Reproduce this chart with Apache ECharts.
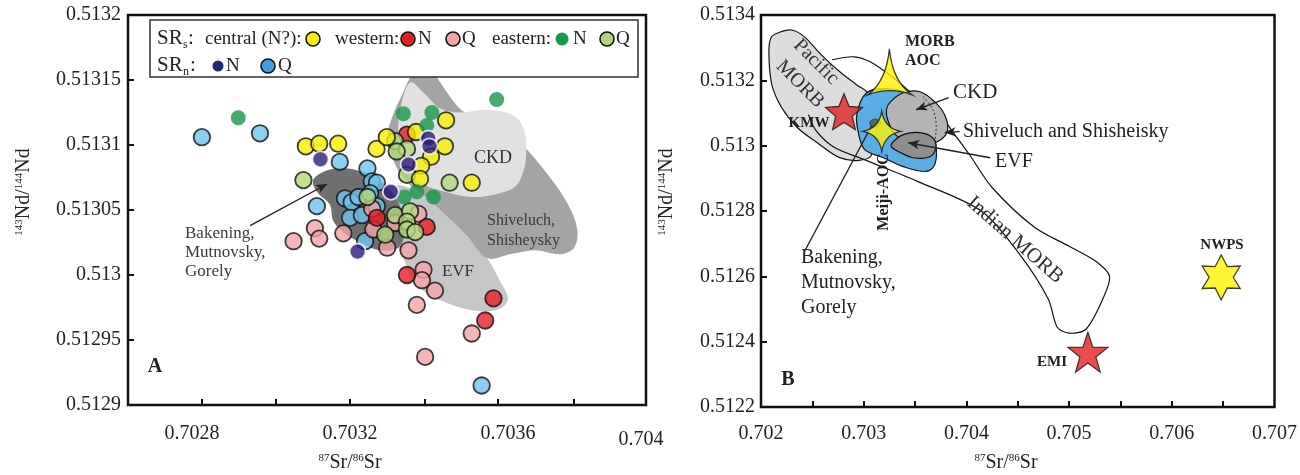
<!DOCTYPE html>
<html><head><meta charset="utf-8">
<script src="https://cdn.jsdelivr.net/npm/echarts@6/dist/echarts.min.js"></script>
<style>html,body{margin:0;padding:0;background:#fff}#c{width:1300px;height:475px}</style>
</head><body><div id="c"></div>
<script>
// ================= Panel A (87Sr/86Sr vs 143Nd/144Nd) =================
const xLabelsA = [0.7028, 0.7032, 0.7036];
const xTicksA = [0.702825, 0.703013, 0.7032, 0.70339, 0.703575, 0.703765];
const yLabelsA = [0.5129, 0.51295, 0.513, 0.51305, 0.5131, 0.51315, 0.5132];
const yTicksA = [0.51295, 0.513, 0.51305, 0.5131, 0.51315];

const centralN = [[0.703088,0.513099],[0.703122,0.513101],[0.703170,0.513101],[0.703267,0.513097],[0.703293,0.513106],[0.703367,0.513110],[0.703443,0.513119],[0.703440,0.513099],[0.703405,0.513091],[0.703380,0.513084],[0.703377,0.513074],[0.703508,0.513071]];
const westernN = [[0.703344,0.513108],[0.703268,0.513044],[0.703394,0.513037],[0.703344,0.513000],[0.703563,0.512982],[0.703542,0.512965]];
const westernQ = [[0.703057,0.513026],[0.703111,0.513036],[0.703122,0.513028],[0.703183,0.513032],[0.703256,0.513051],[0.703259,0.513035],[0.703294,0.513021],[0.703348,0.513019],[0.703314,0.513040],[0.703373,0.513047],[0.703386,0.513004],[0.703382,0.512996],[0.703415,0.512988],[0.703369,0.512977],[0.703508,0.512955],[0.703390,0.512937]];
const easternN = [[0.702917,0.513121],[0.703335,0.513124],[0.703407,0.513125],[0.703394,0.513115],[0.703571,0.513135],[0.703337,0.513060],[0.703369,0.513064],[0.703411,0.513060]];
const easternQ = [[0.703082,0.513073],[0.703314,0.513103],[0.703344,0.513097],[0.703318,0.513095],[0.703344,0.513077],[0.703452,0.513071],[0.703244,0.513060],[0.703314,0.513046],[0.703352,0.513049],[0.703344,0.513041],[0.703289,0.513031],[0.703344,0.513035],[0.703365,0.513033]];
const srnN = [[0.703125,0.513089],[0.703398,0.513105],[0.703401,0.513099],[0.703348,0.513085],[0.703303,0.513064],[0.703219,0.513018]];
const srnQ = [[0.702825,0.513106],[0.702972,0.513109],[0.703174,0.513087],[0.703244,0.513082],[0.703116,0.513053],[0.703187,0.513059],[0.703204,0.513056],[0.703221,0.513060],[0.703255,0.513072],[0.703268,0.513071],[0.703251,0.513063],[0.703268,0.513053],[0.703200,0.513044],[0.703230,0.513046],[0.703238,0.513026],[0.703533,0.512915]];

const evfA = [[0.703276,0.513065],[0.703327,0.513069],[0.703395,0.513059],[0.703435,0.513048],[0.703496,0.513030],[0.703547,0.513013],[0.703580,0.512995],[0.703600,0.512982],[0.703585,0.512975],[0.703547,0.512972],[0.703491,0.512974],[0.703441,0.512979],[0.703390,0.512987],[0.703357,0.512996],[0.703339,0.513010],[0.703314,0.513027],[0.703284,0.513046]];
const shiveluchA = [[0.703380,0.513165],[0.703403,0.513159],[0.703433,0.513146],[0.703466,0.513132],[0.703491,0.513125],[0.703592,0.513112],[0.703643,0.513098],[0.703711,0.513073],[0.703752,0.513054],[0.703775,0.513035],[0.703767,0.513021],[0.703732,0.513016],[0.703668,0.513019],[0.703605,0.513016],[0.703547,0.513013],[0.703496,0.513030],[0.703435,0.513048],[0.703395,0.513059],[0.703352,0.513069],[0.703314,0.513085],[0.703296,0.513108],[0.703306,0.513121],[0.703332,0.513139],[0.703357,0.513155]];
const ckdA = [[0.703352,0.513148],[0.703390,0.513139],[0.703428,0.513128],[0.703478,0.513125],[0.703529,0.513127],[0.703580,0.513126],[0.703618,0.513122],[0.703640,0.513112],[0.703646,0.513096],[0.703640,0.513081],[0.703618,0.513068],[0.703567,0.513062],[0.703504,0.513060],[0.703441,0.513064],[0.703390,0.513069],[0.703339,0.513081],[0.703322,0.513104],[0.703327,0.513127]];
const bakeningA = [[0.703106,0.513072],[0.703124,0.513078],[0.703162,0.513082],[0.703213,0.513081],[0.703263,0.513075],[0.703306,0.513064],[0.703332,0.513048],[0.703339,0.513033],[0.703322,0.513021],[0.703276,0.513019],[0.703225,0.513025],[0.703182,0.513033],[0.703157,0.513042],[0.703149,0.513054],[0.703119,0.513063]];
const arrowA = [[0.702947,0.513038],[0.703142,0.513070]];

// ================= Panel B =================
const xLabelsB = [0.702, 0.703, 0.704, 0.705, 0.706, 0.707];
const xTicksB = [0.7025, 0.703, 0.7035, 0.704, 0.7045, 0.705, 0.7055, 0.706, 0.7065];
const yLabelsB = [0.5122, 0.5124, 0.5126, 0.5128, 0.513, 0.5132, 0.5134];
const yTicksB = [0.5124, 0.5126, 0.5128, 0.513, 0.5132];

const pacificMORB = [[0.702163,0.513345],[0.702298,0.513354],[0.702423,0.513333],[0.702587,0.513278],[0.702779,0.513223],[0.702933,0.513186],[0.703048,0.513156],[0.703010,0.513079],[0.703077,0.512973],[0.702952,0.512955],[0.702760,0.512964],[0.702548,0.513009],[0.702356,0.513055],[0.702202,0.513116],[0.702106,0.513186],[0.702077,0.513280],[0.702096,0.513330]];
const indianMORB = [[0.702692,0.513263],[0.702904,0.513272],[0.703067,0.513256],[0.703288,0.513208],[0.703452,0.513165],[0.703740,0.513095],[0.703865,0.513043],[0.704029,0.512973],[0.704250,0.512872],[0.704663,0.512750],[0.705000,0.512692],[0.705260,0.512646],[0.705394,0.512600],[0.705327,0.512530],[0.705163,0.512438],[0.705000,0.512426],[0.704885,0.512444],[0.704798,0.512530],[0.704519,0.512667],[0.704154,0.512798],[0.703529,0.512890],[0.703000,0.512958],[0.702712,0.512995],[0.702538,0.513045],[0.702462,0.513095]];
const meijiField = [[0.703029,0.513162],[0.703240,0.513174],[0.703433,0.513156],[0.703625,0.513079],[0.703702,0.513003],[0.703692,0.512942],[0.703606,0.512921],[0.703385,0.512936],[0.703192,0.512963],[0.703010,0.512988],[0.702952,0.513034],[0.702933,0.513095]];
const ckdB = [[0.703260,0.513134],[0.703385,0.513162],[0.703548,0.513165],[0.703692,0.513134],[0.703788,0.513095],[0.703817,0.513049],[0.703750,0.513018],[0.703606,0.513003],[0.703452,0.513009],[0.703308,0.513034],[0.703240,0.513073],[0.703221,0.513110]];
const evfB = [[0.703288,0.513012],[0.703385,0.513034],[0.703548,0.513040],[0.703673,0.513024],[0.703702,0.512994],[0.703644,0.512966],[0.703481,0.512963],[0.703356,0.512979],[0.703269,0.512997]];
const shiveluchB = [[0.703577,0.513150],[0.703692,0.513095],[0.703692,0.513015]];
const bakeningB = [0.703112, 0.513069];
const morbAOC = [0.703255, 0.513226];
const meijiAOC = [0.703176, 0.513044];
const kmw = [0.702808, 0.513104];
const emi = [0.705183, 0.512368];
const nwps = [0.706481, 0.512597];
const arrowsB = [
  [[0.703827,0.513147],[0.703510,0.513110]],
  [[0.703933,0.513043],[0.703788,0.513040]],
  [[0.704231,0.512963],[0.703433,0.513009]]
];
const lineB = [[0.702423,0.512676],[0.703077,0.513061]];

// ================= styling / helpers =================
const FF = '"Liberation Serif","Times New Roman",serif';
const fmt = v => String(parseFloat((+v).toFixed(6)));

function starPath(n, inner) {
  let d = '';
  for (let i = 0; i < 2 * n; i++) {
    const r = i % 2 ? 50 * inner : 50;
    const a = -Math.PI / 2 + i * Math.PI / n;
    d += (i ? 'L' : 'M') + (50 + r * Math.cos(a)).toFixed(2) + ' ' + (50 + r * Math.sin(a)).toFixed(2) + ' ';
  }
  return 'path://' + d + 'Z';
}
const star4 = 'path://M20 0 Q23 17 40 20 Q23 23 20 40 Q17 23 0 20 Q17 17 20 0 Z';
const star3 = 'path://M21 0 Q24 31 43 44 Q21 36 0 44 Q18 31 21 0 Z';

function poly(ai, pts, style, opts) {
  opts = opts || {};
  return {
    type: 'custom', xAxisIndex: ai, yAxisIndex: ai, data: [pts[0]], silent: true,
    animation: false, clip: true, z: opts.z || 2,
    renderItem: (p, api) => ({
      type: opts.line ? 'polyline' : 'polygon',
      shape: { points: pts.map(q => api.coord(q)), smooth: opts.smooth == null ? 0.35 : opts.smooth },
      style: style
    }),
    markLine: opts.markLine
  };
}
function scat(ai, data, size, itemStyle, symbol, z) {
  return { type: 'scatter', xAxisIndex: ai, yAxisIndex: ai, data: data, symbol: symbol || 'circle',
    symbolSize: size, itemStyle: itemStyle, silent: true, animation: false, z: z || 3 };
}
function mLine(pairs, symbols) {
  return { silent: true, animation: false, symbol: symbols, symbolSize: [7, 11],
    label: { show: false }, emphasis: { disabled: true },
    lineStyle: { color: '#222', width: 1.4, type: 'solid' },
    data: pairs.map(p => [{ coord: p[0] }, { coord: p[1] }]) };
}

const axisCommon = {
  type: 'value', scale: true, splitLine: { show: false }, axisLine: { show: false },
  axisTick: { show: true, inside: true, length: 6, lineStyle: { color: '#111', width: 2 } }
};
function ax(gi, min, max, labels, ticks, margin) {
  return Object.assign({}, axisCommon, { gridIndex: gi, min: min, max: max,
    axisTick: Object.assign({}, axisCommon.axisTick, { customValues: ticks }),
    axisLabel: { customValues: labels, formatter: fmt, fontFamily: FF, fontSize: 20, color: '#222', margin: margin } });
}

// ---- text / legend graphics ----
const G = [];
function txt(x, y, text, o) {
  o = o || {};
  G.push({ type: 'text', x: x, y: y, rotation: o.rot || 0, z: 100, silent: true,
    style: { text: text, font: (o.bold ? 'bold ' : '') + (o.size || 20) + 'px ' + FF, fill: o.color || '#222',
      align: o.align || 'left', verticalAlign: o.va || 'middle', rich: o.rich, lineHeight: o.lh } });
}
function circ(cx, cy, r, fill, stroke, lw) {
  G.push({ type: 'circle', z: 101, silent: true, shape: { cx: cx, cy: cy, r: r },
    style: { fill: fill, stroke: stroke || null, lineWidth: lw || 0 } });
}
const supRich = {
  m: { fontSize: 20, fontFamily: FF, verticalAlign: 'bottom', fill: '#222' },
  s: { fontSize: 11, fontFamily: FF, verticalAlign: 'top', fill: '#222' }
};
// axis titles
txt(350, 463, '{s|87}{m|Sr/}{s|86}{m|Sr}', { align: 'center', rich: supRich });
txt(1006, 463, '{s|87}{m|Sr/}{s|86}{m|Sr}', { align: 'center', rich: supRich });
txt(24, 192, '{s|143}{m|Nd/}{s|144}{m|Nd}', { align: 'center', rot: Math.PI / 2, rich: supRich });
txt(667, 192, '{s|143}{m|Nd/}{s|144}{m|Nd}', { align: 'center', rot: Math.PI / 2, rich: supRich });
txt(641, 440, '0.704', { align: 'center' });

// legend box
G.push({ type: 'rect', z: 99, silent: true, shape: { x: 150, y: 20, width: 488, height: 57 },
  style: { fill: '#fff', stroke: '#333', lineWidth: 1.5 } });
txt(157, 38, 'SR', { size: 21 }); txt(183, 45, 's', { size: 12 }); txt(188, 38, ':', { size: 21 });
txt(205, 39, 'central (N?):', { size: 19 });
circ(313, 39, 7, '#f9f000', '#111', 1.6);
txt(335, 39, 'western:', { size: 19 });
circ(408, 39, 7, '#e31e24', '#111', 1.6); txt(418, 39, 'N', { size: 19 });
circ(453, 39, 7, '#f4a3a8', '#111', 1.6); txt(462, 39, 'Q', { size: 19 });
txt(492, 39, 'eastern:', { size: 19 });
circ(562, 39, 6.5, '#15994a'); txt(573, 39, 'N', { size: 19 });
circ(607, 39, 7, '#b3d77c', '#111', 1.6); txt(616, 39, 'Q', { size: 19 });
txt(157, 65, 'SR', { size: 21 }); txt(183, 72, 'n', { size: 12 }); txt(190, 65, ':', { size: 21 });
circ(218, 66, 5.5, '#1f2a6e'); txt(226, 66, 'N', { size: 19 });
circ(268, 66, 7, '#3fa0e0', '#111', 1.6); txt(278, 66, 'Q', { size: 19 });

// panel A annotations
txt(185, 224, 'Bakening,\nMutnovsky,\nGorely', { size: 17, color: '#3a3a3a', va: 'top', lh: 19 });
txt(493, 158, 'CKD', { size: 18, color: '#333', align: 'center' });
txt(458, 272, 'EVF', { size: 17, color: '#333', align: 'center' });
txt(487, 211, 'Shiveluch,\nShisheysky', { size: 16, color: '#3a3a3a', va: 'top', lh: 20 });
txt(155, 367, 'A', { size: 20, bold: true, align: 'center' });

// panel B annotations
txt(905, 42, 'MORB', { size: 16, bold: true }); txt(905, 61, 'AOC', { size: 16, bold: true });
txt(816, 62, 'Pacific', { size: 20, color: '#333', align: 'center', rot: -Math.PI / 4 });
txt(800, 84, 'MORB', { size: 20, color: '#333', align: 'center', rot: -Math.PI / 4 });
txt(809, 123, 'KMW', { size: 15, bold: true, align: 'center' });
txt(953, 92, 'CKD', { size: 21 });
txt(963, 132, 'Shiveluch and Shisheisky', { size: 20 });
txt(995, 162, 'EVF', { size: 20 });
txt(884, 192, 'Meiji-AOC', { size: 16, bold: true, align: 'center', rot: Math.PI / 2 });
txt(801, 245, 'Bakening,\nMutnovsky,\nGorely', { size: 20, va: 'top', lh: 25 });
txt(1015, 240, 'Indian MORB', { size: 21, color: '#333', align: 'center', rot: -0.72 });
txt(1222, 245, 'NWPS', { size: 15, bold: true, align: 'center' });
txt(1052, 362, 'EMI', { size: 15, bold: true, align: 'center' });
txt(788, 380, 'B', { size: 20, bold: true, align: 'center' });

const gridStyle = { show: true, borderColor: '#111', borderWidth: 2.5, backgroundColor: 'transparent', containLabel: false };
const stk = { stroke: '#111', lineWidth: 1.2 };
const OUT = { borderColor: '#111', borderWidth: 1.8 };

const option = {
  animation: false,
  backgroundColor: '#fff',
  grid: [
    Object.assign({ left: 128, top: 15, width: 518, height: 390 }, gridStyle),
    Object.assign({ left: 761, top: 15, width: 520, height: 392 }, gridStyle)
  ],
  xAxis: [
    ax(0, 0.702638, 0.703949, xLabelsA, xTicksA, 19),
    ax(1, 0.702, 0.707, xLabelsB, xTicksB, 17)
  ],
  yAxis: [
    ax(0, 0.5129, 0.5132, yLabelsA, yTicksA, 7),
    ax(1, 0.5122, 0.5134, yLabelsB, yTicksB, 6)
  ],
  series: [
    // panel A fields
    poly(0, evfA, { fill: '#c6c6c6' }),
    poly(0, shiveluchA, { fill: '#a4a4a4' }),
    poly(0, ckdA, { fill: '#e1e1e1' }),
    poly(0, bakeningA, { fill: '#707070' }, { markLine: mLine([arrowA], ['none', 'arrow']) }),
    // panel A samples
    scat(0, srnQ, 16.5, Object.assign({ color: '#6fc3ef' }, OUT)),
    scat(0, westernQ, 16.5, Object.assign({ color: '#f4a3a8' }, OUT)),
    scat(0, westernN, 16.5, Object.assign({ color: '#e31e24' }, OUT)),
    scat(0, easternQ, 16.5, Object.assign({ color: '#b3d77c' }, OUT)),
    scat(0, centralN, 16.5, Object.assign({ color: '#f9f000' }, OUT)),
    scat(0, easternN, 15, { color: '#15994a', borderWidth: 0 }),
    scat(0, srnN, 16, { color: '#2a1b7d', borderColor: '#fff', borderWidth: 1.8 }),
    // panel B fields
    poly(1, pacificMORB, Object.assign({ fill: '#dcdcdc' }, stk)),
    poly(1, indianMORB, { fill: 'none', stroke: '#111', lineWidth: 1.2 }, { line: true, smooth: 0.3 }),
    poly(1, meijiField, Object.assign({ fill: '#5aaee6' }, stk)),
    poly(1, ckdB, Object.assign({ fill: '#b4b4b4' }, stk)),
    poly(1, evfB, Object.assign({ fill: '#8e8e8e' }, stk), { markLine: mLine(arrowsB, ['none', 'arrow']) }),
    poly(1, shiveluchB, { fill: 'none', stroke: '#333', lineWidth: 1, lineDash: [2, 2] }, { line: true, smooth: 0.5, markLine: mLine([lineB], ['none', 'none']) }),
    scat(1, [bakeningB], [11, 8], { color: '#555', borderColor: '#222', borderWidth: 0.8 }),
    // panel B end-members
    scat(1, [morbAOC], [44, 46], { color: '#fff200', borderColor: '#111', borderWidth: 1.3 }, star3, 5),
    scat(1, [meijiAOC], [38, 40], { color: '#fff200', borderColor: '#111', borderWidth: 1.3 }, star4, 5),
    scat(1, [kmw], [37, 36], { color: '#e0201f', borderColor: '#111', borderWidth: 1.2 }, starPath(5, 0.45), 5),
    scat(1, [emi], [40, 40], { color: '#e0201f', borderColor: '#111', borderWidth: 1.2 }, starPath(5, 0.4), 5),
    scat(1, [nwps], [38, 45], { color: '#fff200', borderColor: '#111', borderWidth: 1.3 }, starPath(6, 0.55), 5)
  ],
  graphic: G
};

const chart = echarts.init(document.getElementById('c'), null, { renderer: 'canvas' });
chart.setOption(option);
</script>
</body></html>
